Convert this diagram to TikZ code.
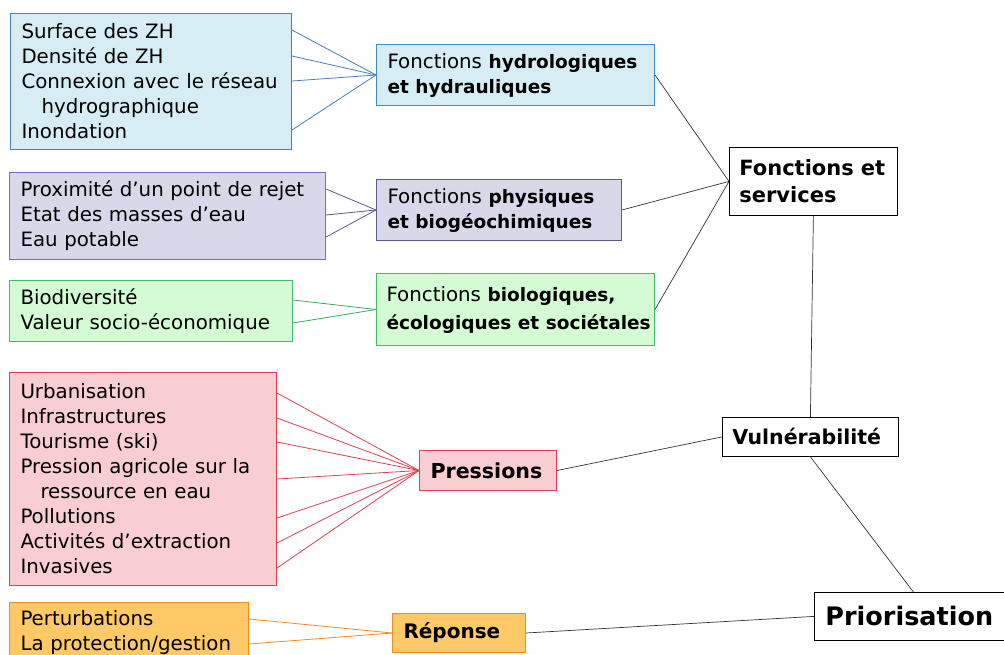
\documentclass[tikz,border=0pt]{standalone}
\usepackage{fontspec}
\setmainfont{DejaVu Sans}
\usetikzlibrary{positioning,calc}

\definecolor{bluefill}{HTML}{D6EDF5}
\definecolor{blueedge}{HTML}{4A7EBB}
\definecolor{bluefn}{HTML}{3C8DD0}
\definecolor{purplefill}{HTML}{D9D8EA}
\definecolor{purpleedge}{HTML}{8E63B5}
\definecolor{purplefn}{HTML}{5A5A90}
\definecolor{greenfill}{HTML}{D4FBD4}
\definecolor{greenedge}{HTML}{3DBE6A}
\definecolor{redfill}{HTML}{F8CED2}
\definecolor{rededge}{HTML}{E2404F}
\definecolor{orangefill}{HTML}{FEC966}
\definecolor{orangeedge}{HTML}{F08A22}

% bold part of a function label
\newcommand{\fnbold}[1]{{\fontsize{18.5}{25}\selectfont\bfseries #1}}

\begin{document}
\begin{tikzpicture}[x=1pt,y=-1pt,
    box/.style={draw, anchor=north west, align=left, inner xsep=11pt,
        inner ysep=0pt, line width=1pt, font=\fontsize{19.8}{25}\selectfont},
    keybox/.style={box, draw=black, fill=white, line width=0.8pt, inner xsep=10pt},
    link/.style={draw=black!80, line width=0.7pt}]

\useasboundingbox (0,0) rectangle (1004,655);

% left column
\node[box, draw=blueedge, fill=bluefill, text width=259pt, minimum height=136pt] (hsrc) at (10,13)
    {Surface des ZH\\Densité de ZH\\Connexion avec le réseau\\\hspace*{20pt}hydrographique\\Inondation};
\node[box, draw=purpleedge, fill=purplefill, text width=294pt, minimum height=87pt] (psrc) at (9,172)
    {Proximité d’un point de rejet\\Etat des masses d’eau\\Eau potable};
\node[box, draw=greenedge, fill=greenfill, text width=261pt, minimum height=61pt] (gsrc) at (9,280)
    {Biodiversité\\Valeur socio-économique};
\node[box, draw=rededge, fill=redfill, text width=245pt, minimum height=213pt] (rsrc) at (9,372)
    {Urbanisation\\Infrastructures\\Tourisme (ski)\\Pression agricole sur la\\\hspace*{20pt}ressource en eau\\Pollutions\\Activités d’extraction\\Invasives};
\node[box, draw=orangeedge, fill=orangefill, text width=217pt, minimum height=60pt] (osrc) at (9,602)
    {Perturbations\\La protection/gestion};

% middle column
\node[box, draw=bluefn, fill=bluefill, text width=256pt, minimum height=61pt] (hydro) at (376,44)
    {Fonctions \fnbold{hydrologiques}\\\fnbold{et hydrauliques}};
\node[box, draw=purplefn, fill=purplefill, text width=223pt, minimum height=61pt] (phys) at (376,179)
    {Fonctions \fnbold{physiques}\\\fnbold{et biogéochimiques}};
\node[box, draw=greenedge, fill=greenfill, text width=258pt, inner xsep=10pt, minimum height=72pt,
    font=\fontsize{19.8}{28}\selectfont] (bio) at (376,273)
    {Fonctions \fnbold{biologiques,}\\\mbox{\fnbold{écologiques et sociétales}}};
\node[box, draw=rededge, fill=redfill, text width=115pt, minimum height=40pt,
    font=\bfseries\fontsize{20.6}{25}\selectfont] (press) at (419,450) {Pressions};
\node[box, draw=orangeedge, fill=orangefill, text width=111pt, minimum height=39pt,
    font=\bfseries\fontsize{20}{25}\selectfont] (rep) at (392,613) {Réponse};

% right column
\node[keybox, text width=148pt, minimum height=68pt, font=\bfseries\fontsize{21}{27}\selectfont] (fs) at (729,147) {Fonctions et\\services};
\node[keybox, text width=156pt, minimum height=39pt, font=\bfseries\fontsize{20.5}{25}\selectfont] (vuln) at (722,417) {Vulnérabilité};
\node[keybox, text width=176pt, minimum height=48pt, inner xsep=11pt, font=\bfseries\fontsize{25.5}{30}\selectfont] (prio) at (814,592) {Priorisation};

% coloured links
\foreach \y in {30,56,81,130}
    \draw[blueedge, line width=0.8pt] (hsrc.east |- 0,\y) -- (hydro.west);
\foreach \y in {189,215,237}
    \draw[purplefn, line width=0.8pt] (psrc.east |- 0,\y) -- (phys.west);
\foreach \y in {300,323}
    \draw[greenedge!90!black, line width=0.8pt] (gsrc.east |- 0,\y) -- (bio.west);
\foreach \y in {393,418,442,479,518,543,568}
    \draw[rededge, line width=0.8pt] (rsrc.east |- 0,\y) -- (press.west);
\foreach \y in {619,644}
    \draw[orangeedge, line width=0.8pt] (osrc.east |- 0,\y) -- (rep.west);

% black links
\draw[link] (hydro.east) -- (fs.west);
\draw[link] (phys.east) -- (fs.west);
\draw[link] (bio.east) -- (fs.west);
\draw[link] (fs.south) -- (vuln.north);
\draw[link] (press.east) -- (vuln.west);
\draw[link] (vuln.south) -- (prio.north);
\draw[link] (rep.east) -- (prio.west);

\end{tikzpicture}
\end{document}
